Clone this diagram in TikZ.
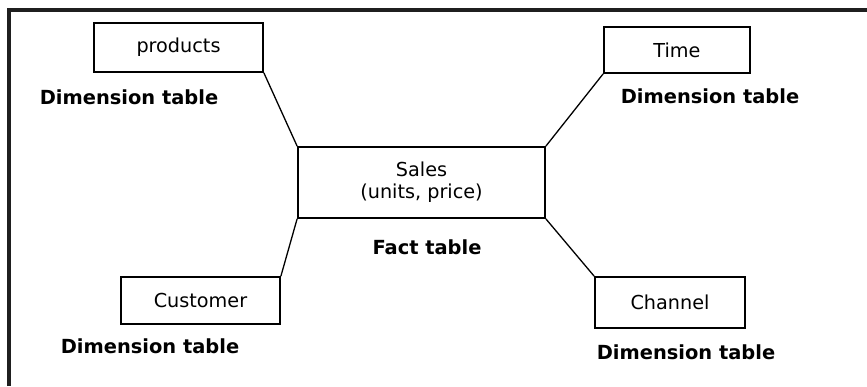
\documentclass[tikz,border=0pt]{standalone}
\usepackage{fontspec}
\setmainfont{DejaVu Sans}
\begin{document}
\begin{tikzpicture}[x=1bp,y=-1bp,
  tbl/.style={draw=black, line width=1.8bp, fill=white, inner sep=0pt, font=\fontsize{19.3}{22}\selectfont, align=center},
  tblcaption/.style={font=\bfseries\fontsize{19.5}{22}\selectfont, inner sep=0pt},
  link/.style={draw=black, line width=1.3bp},
  outerframe/.style={draw=black!88, line width=4bp}]
\useasboundingbox (0,0) rectangle (867,386);
% outer frame (top and left edges only)
\draw[outerframe] (9,386) -- (9,10) -- (867,10);
% fact table
\node[tbl, minimum width=247bp, minimum height=71bp] (sales) at (421.5,182.5) {Sales\\(units, price)};
\node[tblcaption] (factcap) at (427,247) {Fact table};
% dimension tables
\node[tbl, minimum width=169bp, minimum height=49bp] (prod) at (178.5,47.5) {products};
\node[tblcaption] (prodcap) at (129,97) {Dimension table};
\node[tbl, minimum width=146bp, minimum height=46bp] (time) at (677,50) {Time};
\node[tblcaption] (timecap) at (710,96) {Dimension table};
\node[tbl, minimum width=159bp, minimum height=47bp] (cust) at (200.5,300.5) {Customer};
\node[tblcaption] (custcap) at (150,346) {Dimension table};
\node[tbl, minimum width=150bp, minimum height=51bp] (chan) at (670,302.5) {Channel};
\node[tblcaption] (chancap) at (686,352) {Dimension table};
% star connectors
\draw[link] (prod.south east) -- (sales.north west);
\draw[link] (time.south west) -- (sales.north east);
\draw[link] (cust.north east) -- (sales.south west);
\draw[link] (chan.north west) -- (sales.south east);
\end{tikzpicture}
\end{document}
